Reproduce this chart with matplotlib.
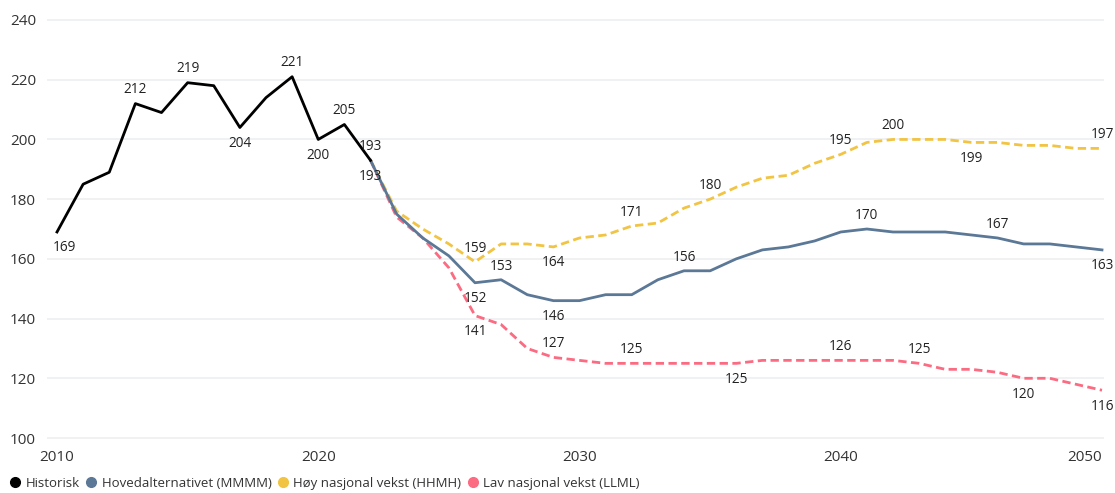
import matplotlib
matplotlib.use("Agg")
import matplotlib.pyplot as plt
from matplotlib.lines import Line2D

plt.rcParams['font.family'] = ['Open Sans', 'DejaVu Sans']

hist_years = list(range(2010, 2023))
hist_vals = [169, 185, 189, 212, 209, 219, 218, 204, 214, 221, 200, 205, 193]

proj_years = list(range(2022, 2051))
main_vals = [193, 175, 167, 161, 152, 153, 148, 146, 146, 148, 148, 153, 156, 156, 160, 163,
             164, 166, 169, 170, 169, 169, 169, 168, 167, 165, 165, 164, 163]
high_vals = [193, 176, 170, 165, 159, 165, 165, 164, 167, 168, 171, 172, 177, 180, 184, 187,
             188, 192, 195, 199, 200, 200, 200, 199, 199, 198, 198, 197, 197]
low_vals = [193, 174, 167, 157, 141, 138, 130, 127, 126, 125, 125, 125, 125, 125, 125, 126,
            126, 126, 126, 126, 126, 125, 123, 123, 122, 120, 120, 118, 116]

series_names = ["Historisk", "Hovedalternativet (MMMM)", "Høy nasjonal vekst (HHMH)", "Lav nasjonal vekst (LLML)"]
colors = ["#000000", "#5b7896", "#f2c443", "#fb6b82"]

# (year, position) label specs
hist_labels = [(2010, 'below'), (2013, 'above'), (2015, 'above'), (2017, 'below'), (2019, 'above'),
               (2020, 'below'), (2021, 'above'), (2022, 'above')]
main_labels = [(2026, 'below'), (2027, 'above'), (2029, 'below'), (2034, 'above'), (2041, 'above'),
               (2046, 'above'), (2050, 'below')]
high_labels = [(2026, 'above'), (2029, 'below'), (2032, 'above'), (2035, 'above'), (2040, 'above'),
               (2042, 'above'), (2045, 'below'), (2050, 'above')]
low_labels = [(2022, 'below'), (2026, 'below'), (2029, 'above'), (2032, 'above'), (2036, 'below'),
              (2040, 'above'), (2043, 'above'), (2047, 'below'), (2050, 'below')]

fig = plt.figure(figsize=(11.15, 4.93), dpi=100)
ax = fig.add_axes([47/1115, 1 - 440/493, (1104 - 47)/1115, (440 - 18)/493])

ax.set_xlim(2010 - 10/26.1, 2050 + 2/26.1)
ax.set_ylim(100 - 2/2.986, 240 + 2/2.986)

for s in ax.spines.values():
    s.set_visible(False)
ax.set_yticks(range(100, 241, 20))
ax.set_xticks([2010, 2020, 2030, 2040, 2050])
ax.grid(axis='y', color='#eceff1', linewidth=1.2)
ax.set_axisbelow(True)
ax.tick_params(axis='both', length=0, labelsize=11, labelcolor='#333333')
ax.tick_params(axis='y', pad=8)
ax.tick_params(axis='x', pad=7)
xl = ax.get_xticklabels()
xl[-1].set_horizontalalignment('right')

dash = (0, (3, 1.6))
ax.plot(proj_years, high_vals, color=colors[2], lw=2, linestyle=dash, zorder=3)
ax.plot(proj_years, low_vals, color=colors[3], lw=2, linestyle=dash, zorder=3)
ax.plot(proj_years, main_vals, color=colors[1], lw=2, zorder=4)
ax.plot(hist_years, hist_vals, color="#000000", lw=2, zorder=5)


def put_labels(years, vals, specs):
    for yr, pos in specs:
        v = vals[years.index(yr)]
        dx = 5 if yr == 2010 else 0
        if pos == 'above':
            off, va = 4.5, 'bottom'
        else:
            off, va = -6, 'top'
        ax.annotate(str(v), (yr, v), xytext=(dx, off), textcoords='offset points',
                    ha='center', va=va, fontsize=9.8, color='#222222', zorder=6)


put_labels(hist_years, hist_vals, hist_labels)
put_labels(proj_years, main_vals, main_labels)
put_labels(proj_years, high_vals, high_labels)
put_labels(proj_years, low_vals, low_labels)

handles = [Line2D([], [], marker='o', linestyle='none', markersize=7, color=c) for c in colors]
fig.legend(handles, series_names, loc='lower left', bbox_to_anchor=(0.006, 0.0), ncol=4,
           frameon=False, fontsize=9.5, handletextpad=0.4, columnspacing=0.45, handlelength=0.8,
           borderaxespad=0.0, borderpad=0.25, labelcolor='#333333')

fig.savefig("out.png", dpi=100)
